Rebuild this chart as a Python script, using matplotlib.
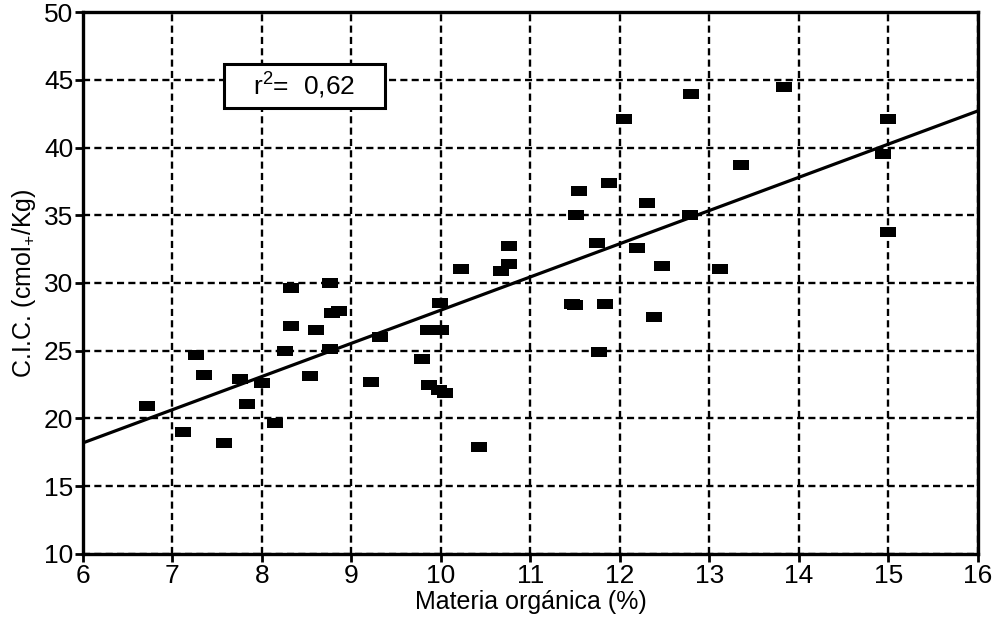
import matplotlib
matplotlib.use("Agg")
import matplotlib.pyplot as plt
from matplotlib.patches import Rectangle
from matplotlib import font_manager

# ---- data ----
materia_organica = [6.72, 7.12, 7.26, 7.35, 7.58, 7.75, 7.83, 8.00, 8.15, 8.26,
                    8.32, 8.32, 8.54, 8.60, 8.76, 8.76, 8.78, 8.86, 9.22, 9.32,
                    9.79, 9.85, 10.00, 9.87, 9.98, 10.05, 9.99, 10.42, 10.22, 10.67,
                    10.76, 10.76, 11.46, 11.50, 11.83, 11.77, 11.51, 11.54, 11.88, 11.74,
                    12.05, 12.19, 12.30, 12.47, 12.38, 12.80, 12.78, 13.12, 13.35, 13.83,
                    15.00, 14.94, 15.00]
cic = [20.9, 19.0, 24.7, 23.2, 18.2, 22.9, 21.1, 22.6, 19.7, 25.0,
       29.6, 26.8, 23.1, 26.5, 30.0, 25.15, 27.8, 27.95, 22.7, 26.05,
       24.4, 26.5, 26.5, 22.5, 22.1, 21.9, 28.5, 17.9, 31.05, 30.9,
       31.4, 32.75, 28.45, 28.35, 28.45, 24.9, 35.0, 36.8, 37.4, 32.97,
       42.1, 32.6, 35.9, 31.26, 27.5, 43.95, 35.0, 31.06, 38.7, 44.5,
       42.1, 39.55, 33.74]
fit_x = [6, 16]
fit_y = [18.2, 42.7]
r2_text = "r$^2$=  0,62"
x_ticks = list(range(6, 17))
y_ticks = list(range(10, 51, 5))

avail = {f.name for f in font_manager.fontManager.ttflist}
fam = ['Liberation Sans Narrow', 'Liberation Sans', 'DejaVu Sans']
fam = [f for f in fam if f in avail] or ['DejaVu Sans']
plt.rcParams['font.family'] = fam
plt.rcParams['mathtext.fontset'] = 'custom'
plt.rcParams['mathtext.rm'] = fam[0]
plt.rcParams['mathtext.it'] = fam[0]

fig = plt.figure(figsize=(10.06, 6.23), dpi=100)
ax = fig.add_axes([0.0825, 0.1108, 0.8895, 0.8699])

ax.set_xlim(6, 16)
ax.set_ylim(10, 50)
ax.set_xticks(x_ticks)
ax.set_yticks(y_ticks)
ax.grid(True, color='black', linestyle=(0, (3.0, 1.8)), linewidth=1.7)
ax.set_axisbelow(True)

ax.scatter(materia_organica, cic, marker=[(-1.4, -1), (1.4, -1), (1.4, 1), (-1.4, 1)],
           s=120, color='black', zorder=3, linewidths=0)
ax.plot(fit_x, fit_y, color='black', linewidth=2.3, zorder=4)

# r^2 box
bx0, bx1, by0, by1 = 7.58, 9.37, 42.9, 46.15
ax.add_patch(Rectangle((bx0, by0), bx1 - bx0, by1 - by0, facecolor='white',
                       edgecolor='black', linewidth=2.2, zorder=5))
ax.text((bx0 + bx1) / 2, (by0 + by1) / 2, r2_text, ha='center', va='center',
        fontsize=19, zorder=6)

for s in ax.spines.values():
    s.set_linewidth(2.4)
ax.tick_params(axis='both', direction='out', length=6, width=2, labelsize=19,
               pad=1, colors='black')
ax.set_xlabel("Materia orgánica (%)", fontsize=18, labelpad=2)
ax.set_ylabel("C.I.C. (cmol$_{+}$/Kg)", fontsize=18, labelpad=4)

fig.savefig("out.png", dpi=100)
